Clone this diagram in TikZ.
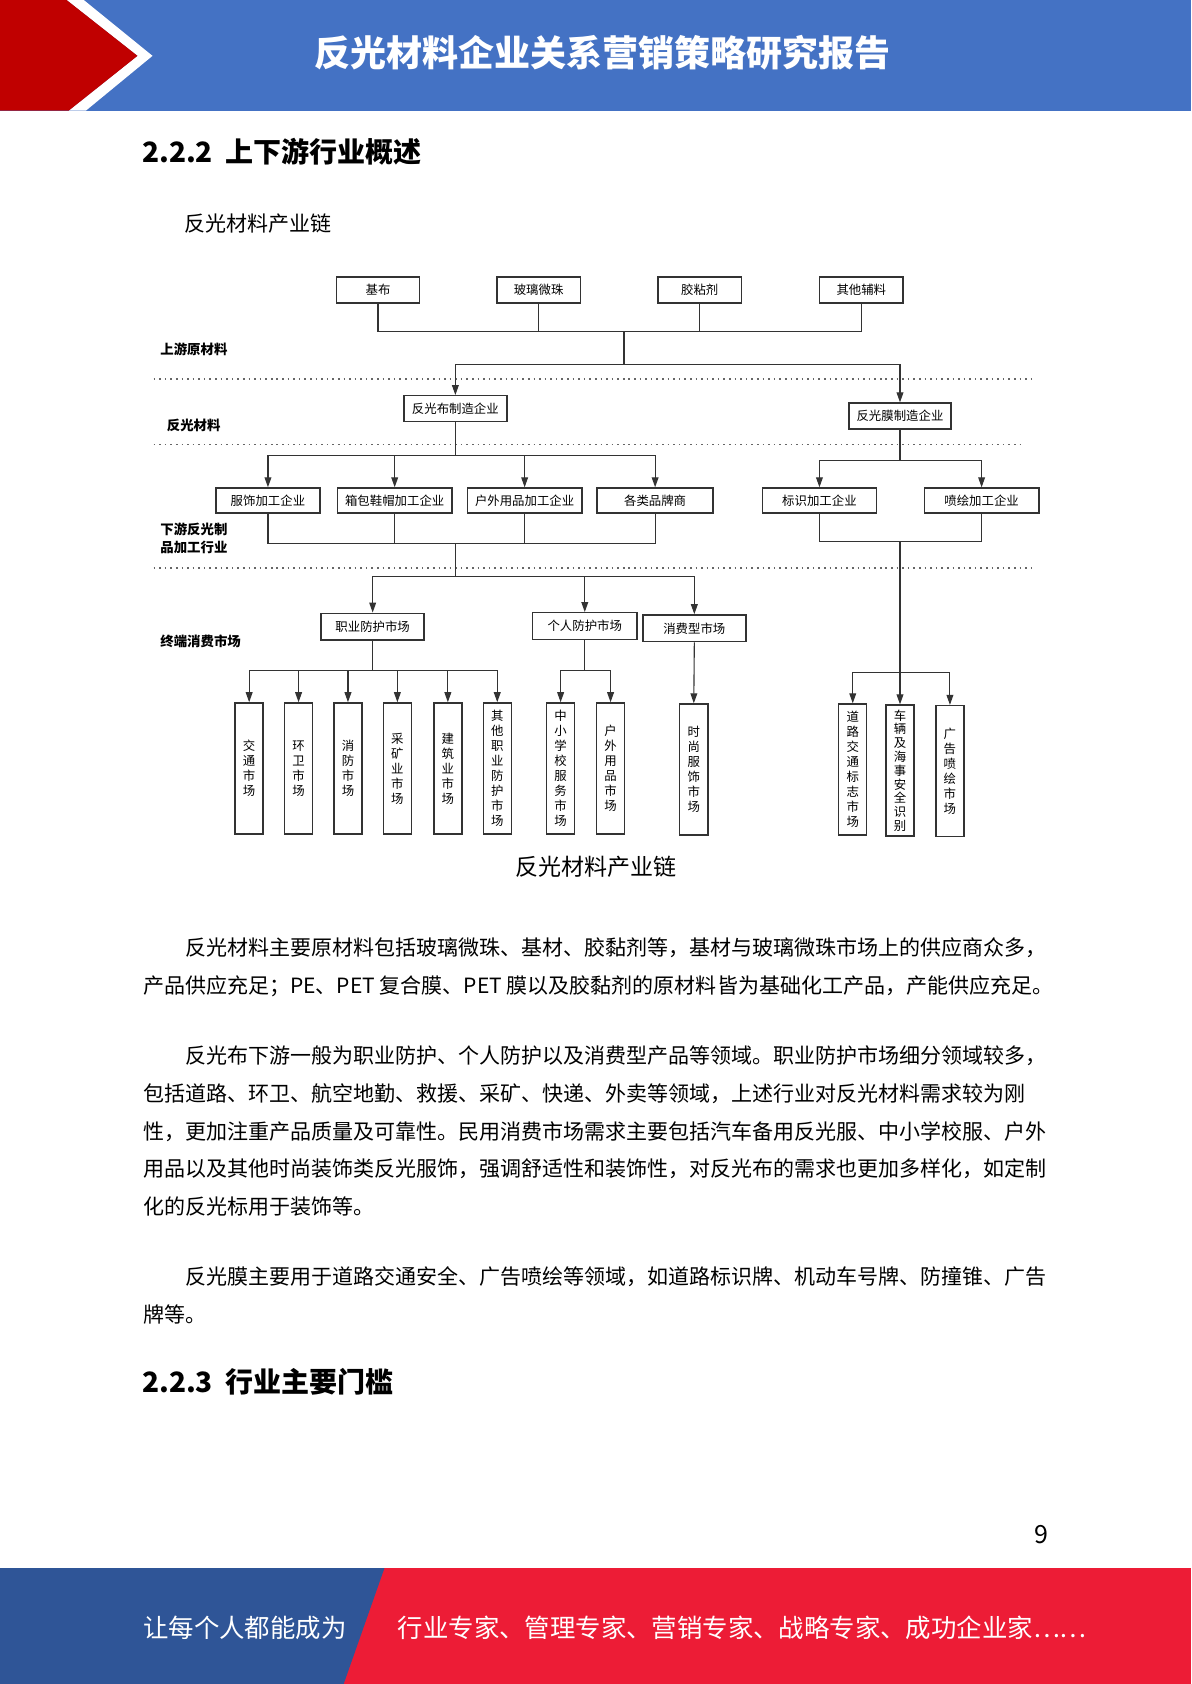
\documentclass[tikz,border=0pt]{standalone}
\usepackage{fontspec}
\setmainfont{Noto Sans CJK SC}
\usetikzlibrary{arrows.meta}
\definecolor{bandblue}{HTML}{4472C4}
\definecolor{bandred}{HTML}{C00000}
\definecolor{footblue}{HTML}{2F5597}
\definecolor{footred}{HTML}{ED1C36}
\newcommand\pgTitle{\fontsize{18bp}{21bp}\selectfont\bfseries}
\newcommand\pgHead{\fontsize{14bp}{17bp}\selectfont\bfseries}
\newcommand\pgBody{\fontsize{10.5bp}{18.95bp}\selectfont}
\newcommand\pgBox{\fontsize{6.2bp}{7.5bp}\selectfont}
\newcommand\pgTier{\fontsize{6.7bp}{8.9bp}\selectfont\bfseries}
\newcommand\pgCap{\fontsize{11.5bp}{14bp}\selectfont}
\newcommand\pgFoot{\fontsize{12.7bp}{15bp}\selectfont}
\tikzset{
  box/.style={rectangle, draw=black!80, line width=0.7bp, fill=white, inner sep=0pt,
    font=\pgBox, minimum height=12.8bp, minimum width=#1},
  box/.default=52bp,
  colbox/.style={box=14bp, minimum height=65.5bp, align=center},
  link/.style={draw=black!80, line width=0.55bp},
  arr/.style={link, -{Triangle[length=5bp,width=3.4bp]}},
  tier/.style={draw=black!60, line width=0.8bp, dotted},
  tierlabel/.style={anchor=west, align=left, inner sep=0pt, font=\pgTier},
  lefttext/.style={anchor=west, inner sep=0pt},
}

\begin{document}
\begin{tikzpicture}[x=0.5368bp, y=-0.5368bp]
  \useasboundingbox (0,0) rectangle (1109,1568);
  \fill[white] (0,0) rectangle (1109,1568);

  % header band
  \fill[bandblue] (0,0) rectangle (1109,103);
  \fill[white] (62,0) -- (78,0) -- (142,52) -- (80,103) -- (64,103) -- (128,52) -- cycle;
  \fill[bandred] (0,0) -- (62,0) -- (128,52) -- (64,103) -- (0,103) -- cycle;
  \node[text=white, font=\pgTitle] (title) at (561,49) {反光材料企业关系营销策略研究报告};

  \node[lefttext, font=\pgHead] (head1) at (132,141) {2.2.2\hspace{0.45em}上下游行业概述};
  \node[lefttext, font=\pgBody] (chartname) at (171,208.5) {反光材料产业链};

  % tiers
  \draw[tier] (143,353) -- (962,353);
  \draw[tier] (143,414) -- (951,414);
  \draw[tier] (143,529) -- (962,529);
  \node[tierlabel] (t1) at (149,325) {上游原材料};
  \node[tierlabel] (t2) at (155,396) {反光材料};
  \node[tierlabel] (t3) at (149,501) {下游反光制\\品加工行业};
  \node[tierlabel] (t4) at (149,597.5) {终端消费市场};

  % raw materials
  \node[box=41.7bp, minimum height=12.9bp] (jibu) at (352,270) {基布};
  \node[box=41.7bp, minimum height=12.9bp] (boli) at (501.5,270) {玻璃微珠};
  \node[box=41.7bp, minimum height=12.9bp] (jiaonian) at (651.5,270) {胶粘剂};
  \node[box=41.7bp, minimum height=12.9bp] (qita) at (802,270) {其他辅料};

  % reflective materials
  \node[box=51.5bp, minimum height=12.9bp] (fgbu) at (424,380.5) {反光布制造企业};
  \node[box=51bp, minimum height=12.9bp] (fgmo) at (838,387.3) {反光膜制造企业};

  % processing
  \node[box=52bp, minimum height=12.5bp] (fushi) at (249.5,466) {服饰加工企业};
  \node[box=57.4bp, minimum height=12.5bp] (xiangbao) at (367.5,466) {箱包鞋帽加工企业};
  \node[box=57.4bp, minimum height=12.5bp] (huwai) at (488.5,466) {户外用品加工企业};
  \node[box=58bp, minimum height=12.5bp] (pinpai) at (610,466) {各类品牌商};
  \node[box=57.2bp, minimum height=12.5bp] (biaoshi) at (763,466) {标识加工企业};
  \node[box=57.4bp, minimum height=12.5bp] (penhui) at (914,466) {喷绘加工企业};

  % markets
  \node[box=51.5bp, minimum height=13.4bp] (zhiye) at (347,583.5) {职业防护市场};
  \node[box=52bp, minimum height=13.4bp] (geren) at (544.5,583) {个人防护市场};
  \node[box=51.5bp, minimum height=13.4bp] (xiaofei) at (646.5,585) {消费型市场};

  \node[colbox] (jiaotong) at (232,715.5) {交\\通\\市\\场};
  \node[colbox] (huanwei) at (278,715.5) {环\\卫\\市\\场};
  \node[colbox] (xiaofang) at (324,715.5) {消\\防\\市\\场};
  \node[colbox] (caikuang) at (370,715.5) {采\\矿\\业\\市\\场};
  \node[colbox] (jianzhu) at (417,715.5) {建\\筑\\业\\市\\场};
  \node[colbox] (qitazy) at (463,715.5) {其\\他\\职\\业\\防\\护\\市\\场};
  \node[colbox] (zhongxiao) at (522,715.5) {中\\小\\学\\校\\服\\务\\市\\场};
  \node[colbox] (huwaiyp) at (568.5,715.5) {户\\外\\用\\品\\市\\场};
  \node[colbox] (shishang) at (646,716.5) {时\\尚\\服\\饰\\市\\场};
  \node[colbox] (daolu) at (794,716.5) {道\\路\\交\\通\\标\\志\\市\\场};
  \node[colbox, font={\fontsize{6.2bp}{6.9bp}\selectfont}] (cheliang) at (838,717.5)
    {车\\辆\\及\\海\\事\\安\\全\\识\\别};
  \node[colbox] (guanggao) at (884.5,718) {广\\告\\喷\\绘\\市\\场};

  % connectors
  \coordinate (rawbus) at (581,309);
  \coordinate (matbus) at (581,339);
  \draw[link] (jibu.south) |- (qita.south |- rawbus) -- (qita.south);
  \draw[link] (boli.south) -- (boli.south |- rawbus);
  \draw[link] (jiaonian.south) -- (jiaonian.south |- rawbus);
  \draw[link] (rawbus) -- (matbus);
  \draw[arr] (matbus) -| (fgbu.north);
  \draw[arr] (matbus) -| (fgmo.north);

  \coordinate (bubus) at (424,424);
  \draw[link] (fgbu.south) -- (bubus);
  \foreach \n in {fushi,xiangbao,huwai,pinpai}
    \draw[arr] (bubus) -| (\n.north);
  \coordinate (mobus) at (838,429);
  \draw[link] (fgmo.south) -- (mobus);
  \draw[arr] (mobus) -| (biaoshi.north);
  \draw[arr] (mobus) -| (penhui.north);

  \coordinate (prodbus) at (424,506);
  \draw[link] (fushi.south) |- (pinpai.south |- prodbus) -- (pinpai.south);
  \draw[link] (xiangbao.south) -- (xiangbao.south |- prodbus);
  \draw[link] (huwai.south) -- (huwai.south |- prodbus);
  \coordinate (signbus) at (838,504);
  \draw[link] (biaoshi.south) |- (penhui.south |- signbus) -- (penhui.south);

  \coordinate (mktbus) at (424,537);
  \draw[link] (prodbus) -- (mktbus);
  \foreach \n in {zhiye,geren,xiaofei}
    \draw[arr] (mktbus) -| (\n.north);

  \coordinate (zybus) at (347,624);
  \draw[link] (zhiye.south) -- (zybus);
  \foreach \n in {jiaotong,huanwei,xiaofang,caikuang,jianzhu,qitazy}
    \draw[arr] (zybus) -| (\n.north);
  \coordinate (grbus) at (544.5,624);
  \draw[link] (geren.south) -- (grbus);
  \draw[arr] (grbus) -| (zhongxiao.north);
  \draw[arr] (grbus) -| (huwaiyp.north);
  \draw[arr] (xiaofei.south) -- (shishang.north);
  \coordinate (fmbus) at (838,626);
  \draw[link] (signbus) -- (fmbus);
  \foreach \n in {daolu,cheliang,guanggao}
    \draw[arr] (fmbus) -| (\n.north);

  \node[font=\pgCap] (caption) at (555,807) {反光材料产业链};

  % body text
  \node[anchor=north west, align=left, font=\pgBody, inner sep=0pt] (para1) at (133,873)
    {\hspace*{2em}反光材料主要原材料包括玻璃微珠、基材、胶黏剂等，基材与玻璃微珠市场上的供应商众多，\\
     产品供应充足；PE、PET 复合膜、PET 膜以及胶黏剂的原材料皆为基础化工产品，产能供应充足。};
  \node[anchor=north west, align=left, font=\pgBody, inner sep=0pt] (para2) at (133,973)
    {\hspace*{2em}反光布下游一般为职业防护、个人防护以及消费型产品等领域。职业防护市场细分领域较多，\\
     包括道路、环卫、航空地勤、救援、采矿、快递、外卖等领域，上述行业对反光材料需求较为刚\\
     性，更加注重产品质量及可靠性。民用消费市场需求主要包括汽车备用反光服、中小学校服、户外\\
     用品以及其他时尚装饰类反光服饰，强调舒适性和装饰性，对反光布的需求也更加多样化，如定制\\
     化的反光标用于装饰等。};
  \node[anchor=north west, align=left, font=\pgBody, inner sep=0pt] (para3) at (133,1179)
    {\hspace*{2em}反光膜主要用于道路交通安全、广告喷绘等领域，如道路标识牌、机动车号牌、防撞锥、广告\\
     牌等。};

  \node[lefttext, font=\pgHead] (head2) at (132,1287) {2.2.3\hspace{0.45em}行业主要门槛};

  \node[font=\fontsize{12.5bp}{15bp}\selectfont] (pageno) at (969.5,1429) {9};

  % footer band
  \fill[footred] (0,1460) rectangle (1109,1568);
  \fill[footblue] (0,1460) -- (358,1460) -- (320,1568) -- (0,1568) -- cycle;
  \node[lefttext, text=white, font=\pgFoot] (slogan1) at (133,1516) {让每个人都能成为};
  \node[lefttext, text=white, font=\pgFoot] (slogan2) at (370,1516)
    {行业专家、管理专家、营销专家、战略专家、成功企业家……};
\end{tikzpicture}
\end{document}
